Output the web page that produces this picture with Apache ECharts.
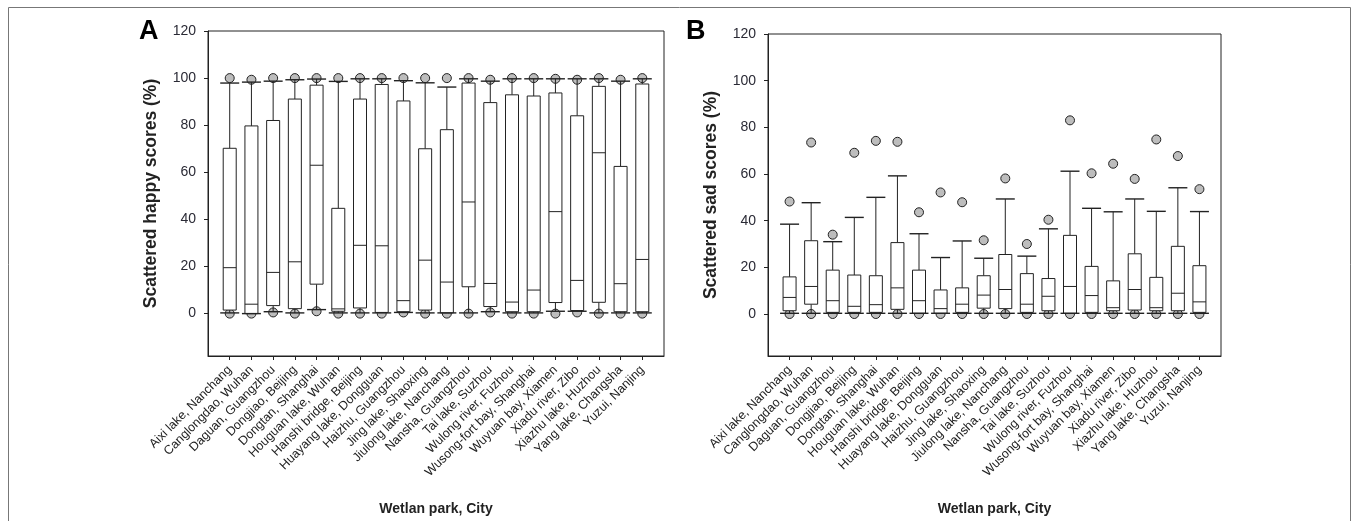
<!DOCTYPE html>
<html>
<head>
<meta charset="utf-8">
<script src="https://cdn.jsdelivr.net/npm/echarts@6/dist/echarts.min.js"></script>
<style>html,body{margin:0;padding:0;background:#fff}#c{width:1356px;height:521px}</style>
</head>
<body>
<div id="c"></div>
<script>
const categories = ['Aixi lake, Nanchang','Canglongdao, Wuhan','Daguan, Guangzhou','Dongjiao, Beijing','Dongtan, Shanghai','Houguan lake, Wuhan','Hanshi bridge, Beijing','Huayang lake, Dongguan','Haizhu, Guangzhou','Jing lake, Shaoxing','Jiulong lake, Nanchang','Nansha, Guangzhou','Tai lake, Suzhou','Wulong river, Fuzhou','Wusong-fort bay, Shanghai','Wuyuan bay, Xiamen','Xiadu river, Zibo','Xiazhu lake, Huzhou','Yang lake, Changsha','Yuzui, Nanjing'];
const yTicks = [0, 20, 40, 60, 80, 100, 120];

const happyMin = [0.3,0,0.8,0.3,1.7,0.3,0.3,0.3,0.5,0.3,0.3,0.3,0.8,0.3,0.3,1,1,0.3,0.3,0.3];
const happyQ1  = [1.5,0,3.4,2.1,12.5,1,2.4,0.5,0.8,1.5,0.3,11.4,3,0.8,0.8,4.7,1.3,4.8,0.8,0.8];
const happyMed = [19.5,4,17.5,22,63,2,29,28.8,5.5,22.7,13.4,47.4,12.8,4.9,10,43.3,14.1,68.3,12.7,23];
const happyQ3  = [70.2,79.7,82,91.1,97,44.7,91.1,97.3,90.3,70,78.1,97.9,89.6,92.9,92.4,93.7,84,96.5,62.5,97.5];
const happyMax = [97.9,98.3,98.7,99.3,99.6,98.6,99.7,99.7,98.9,98,96.2,99.7,98.7,99.7,99.7,99.7,99.7,99.7,98.7,99.7];
const happyOutHigh = [100,99.3,100,100,100,100,100,100,100,100,100,100,99.3,100,100,99.7,99.3,100,99.3,100];
const happyOutLow  = [0,0,0.5,0,1,0,0,0,0.5,0,0,0,0.5,0,0,0,0.5,0,0,0];

const sadMin = [0.3,0.3,0.3,0.3,0.3,0.3,0.3,0.3,0.3,0.3,0.3,0.3,0.3,0.3,0.3,0.3,0.3,0.3,0.3,0.3];
const sadQ1  = [1.4,4.2,0.7,0.7,0.7,2,0.3,0.3,0.7,2.5,2.3,0.7,1.4,0.3,0.7,1.4,1.7,1.4,1.4,0.7];
const sadMed = [7.1,11.8,5.7,3.3,4,11.2,5.7,2.3,4.2,8.1,10.5,4.2,7.6,11.8,7.9,2.7,10.5,2.7,8.9,5.2];
const sadQ3  = [15.9,31.4,18.8,16.7,16.4,30.6,18.8,10.3,11.2,16.4,25.5,17.3,15.2,33.7,20.4,14.2,25.8,15.7,29,20.7];
const sadMax = [38.5,47.7,31,41.4,50,59.2,34.4,24.2,31.3,23.9,49.3,24.8,36.5,61.2,45.3,43.8,49.3,44,54.1,43.9];
const sadOutHigh = [48.2,73.5,34,69.1,74.2,73.8,43.6,52.1,47.9,31.6,58.1,30,40.4,83,60.3,64.4,57.9,74.8,67.7,53.5];
const sadOutLow  = [0,0,0,0,0,0,0,0,0,0,0,0,0,0,0,0,0,0,0,0];

const paddedCats = [''].concat(categories, ['']);
const FONT = '"Liberation Sans", Arial, sans-serif';
const INK = '#222';

function boxData(mn, q1, md, q3, mx) {
  return categories.map((c, i) => [i + 1, mn[i], q1[i], md[i], q3[i], mx[i]]);
}
function ptData(arr) { return categories.map((c, i) => [i + 1, arr[i]]); }

function renderBox(params, api) {
  const x = api.value(0);
  const pMin = api.coord([x, api.value(1)]);
  const pQ1 = api.coord([x, api.value(2)]);
  const pMed = api.coord([x, api.value(3)]);
  const pQ3 = api.coord([x, api.value(4)]);
  const pMax = api.coord([x, api.value(5)]);
  const cx = pMin[0];
  const bw = 13, cw = 19;
  const ls = { stroke: INK, lineWidth: 1, fill: null };
  const cs = { stroke: INK, lineWidth: 1.4 };
  return {
    type: 'group',
    children: [
      { type: 'line', shape: { x1: cx, y1: pQ3[1], x2: cx, y2: pMax[1] }, style: ls },
      { type: 'line', shape: { x1: cx, y1: pQ1[1], x2: cx, y2: pMin[1] }, style: ls },
      { type: 'rect', shape: { x: cx - bw / 2, y: pQ3[1], width: bw, height: pQ1[1] - pQ3[1] }, style: { stroke: INK, lineWidth: 1, fill: '#fff' } },
      { type: 'line', shape: { x1: cx - bw / 2, y1: pMed[1], x2: cx + bw / 2, y2: pMed[1] }, style: ls },
      { type: 'line', shape: { x1: cx - cw / 2, y1: pMax[1], x2: cx + cw / 2, y2: pMax[1] }, style: cs },
      { type: 'line', shape: { x1: cx - cw / 2, y1: pMin[1], x2: cx + cw / 2, y2: pMin[1] }, style: cs }
    ]
  };
}

function xAxisCfg(gi) {
  return {
    gridIndex: gi, type: 'category', data: paddedCats, boundaryGap: false,
    name: 'Wetlan park, City', nameLocation: 'middle', nameGap: 146,
    nameTextStyle: { fontFamily: FONT, fontWeight: 'bold', fontSize: 14, color: INK },
    axisLine: { onZero: false, lineStyle: { color: INK, width: 1 } },
    axisTick: { show: true, length: 4, inside: false, alignWithLabel: true,
      interval: (idx) => idx > 0 && idx < paddedCats.length - 1, lineStyle: { color: INK } },
    axisLabel: { interval: 0, rotate: 45, margin: 12, fontFamily: FONT, fontSize: 12.5, color: INK },
    splitLine: { show: false }
  };
}
function yAxisCfg(gi, name) {
  return {
    gridIndex: gi, type: 'value', min: -18, max: 120,
    name: name, nameLocation: 'middle', nameGap: 48, nameRotate: 90,
    nameTextStyle: { fontFamily: FONT, fontWeight: 'bold', fontSize: 17.5, color: INK },
    axisLine: { show: true, onZero: false, lineStyle: { color: INK, width: 1 } },
    axisTick: { show: true, length: 4, customValues: yTicks, lineStyle: { color: INK } },
    axisLabel: { customValues: yTicks, fontFamily: FONT, fontSize: 14, color: '#2a2a35', margin: 12 },
    splitLine: { show: false }
  };
}
function outlierSeries(gi, arr) {
  return {
    type: 'scatter', xAxisIndex: gi, yAxisIndex: gi, data: ptData(arr),
    symbol: 'circle', symbolSize: 9, z: 1, silent: true,
    itemStyle: { color: '#bdbdbd', borderColor: INK, borderWidth: 1, opacity: 1 }
  };
}

const chart = echarts.init(document.getElementById('c'), null, { renderer: 'canvas' });
chart.setOption({
  animation: false,
  backgroundColor: '#fff',
  grid: [
    { left: 208, right: 692, top: 31, bottom: 165, show: true, borderColor: INK, borderWidth: 1, backgroundColor: 'transparent' },
    { left: 768, right: 135, top: 34, bottom: 162, show: true, borderColor: INK, borderWidth: 1, backgroundColor: 'transparent' }
  ],
  xAxis: [xAxisCfg(0), xAxisCfg(1)],
  yAxis: [yAxisCfg(0, 'Scattered happy scores (%)'), yAxisCfg(1, 'Scattered sad scores (%)')],
  graphic: [
    { type: 'rect', shape: { x: 8.5, y: 7.5, width: 1342, height: 540 }, style: { fill: null, stroke: '#777', lineWidth: 1 }, silent: true },
    { type: 'text', left: 139, top: 18, style: { text: 'A', fontFamily: FONT, fontWeight: 'bold', fontSize: 27, fill: '#000' } },
    { type: 'text', left: 686, top: 18, style: { text: 'B', fontFamily: FONT, fontWeight: 'bold', fontSize: 27, fill: '#000' } }
  ],
  series: [
    outlierSeries(0, happyOutHigh),
    outlierSeries(0, happyOutLow),
    { type: 'custom', xAxisIndex: 0, yAxisIndex: 0, z: 2, renderItem: renderBox,
      data: boxData(happyMin, happyQ1, happyMed, happyQ3, happyMax) },
    outlierSeries(1, sadOutHigh),
    outlierSeries(1, sadOutLow),
    { type: 'custom', xAxisIndex: 1, yAxisIndex: 1, z: 2, renderItem: renderBox,
      data: boxData(sadMin, sadQ1, sadMed, sadQ3, sadMax) }
  ]
});
</script>
</body>
</html>
